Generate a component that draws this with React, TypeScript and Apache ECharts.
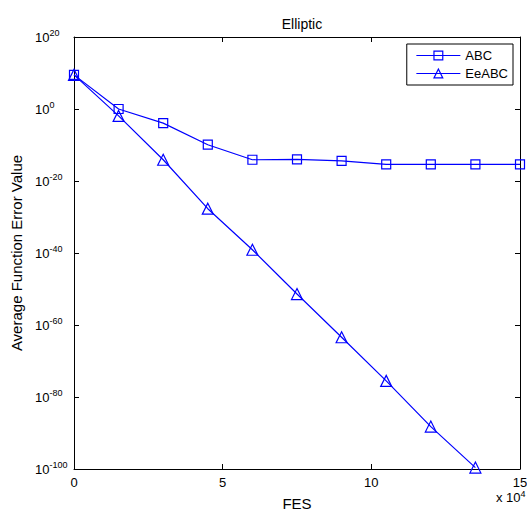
import React, { useEffect, useRef } from "react";
import * as echarts from "echarts";

const fes = [0, 1.5, 3, 4.5, 6, 7.5, 9, 10.5, 12, 13.5, 15];
const abc = [3e9, 1, 1.2e-4, 1.2e-10, 8e-15, 1e-14, 4e-15, 4e-16, 4e-16, 4e-16, 4e-16];
const eeabc = [3e9, 1.2e-2, 8e-15, 2e-28, 8e-40, 4e-52, 4e-64, 3e-76, 6e-89, 2.5e-100, null];
const xTicks = [0, 5, 10, 15];
const yExpTicks = [-100, -80, -60, -40, -20, 0, 20];
const seriesNames = ["ABC", "EeABC"];

const FONT = "Liberation Sans, Arial, sans-serif";
const BLUE = "#0000ff";

export default function App() {
  const ref = useRef<HTMLDivElement>(null);
  useEffect(() => {
    if (!ref.current) return;
    const chart = echarts.init(ref.current, null, { renderer: "svg" });
    const expFmt = (v: number) => (yExpTicks.includes(v) ? `{b|10}{s|${v}}` : "");
    const richLabel = {
      b: { fontSize: 13, fontFamily: FONT, color: "#000", lineHeight: 14 },
      s: { fontSize: 9, fontFamily: FONT, color: "#000", padding: [0, 0, 9, 0] },
    };
    // log10 transform for the logarithmic y scale
    const mk = (vals: (number | null)[]) =>
      fes.map((x, i) => [x, vals[i] == null ? null : Math.log10(vals[i] as number)]);
    const axisLine = { show: true, onZero: false, lineStyle: { color: "#000", width: 1 } };
    const axisTick = { show: true, inside: true, length: 5, lineStyle: { color: "#000" } };
    const option: any = {
      animation: false,
      backgroundColor: "#fff",
      title: {
        text: "Elliptic",
        left: 297,
        textAlign: "center",
        top: 12,
        textStyle: { fontSize: 14, fontWeight: "normal", fontFamily: FONT, color: "#000" },
      },
      legend: {
        orient: "vertical",
        right: 14,
        top: 44,
        padding: [5, 5, 5, 9],
        itemGap: 5,
        itemWidth: 44,
        itemHeight: 11,
        borderColor: "#000",
        borderWidth: 1,
        backgroundColor: "#fff",
        lineStyle: { width: 1.2, color: BLUE },
        itemStyle: { borderWidth: 1.2, borderColor: BLUE },
        textStyle: { fontSize: 13, fontFamily: FONT, color: "#000" },
        data: seriesNames,
      },
      grid: { left: 74, right: 7, top: 37, bottom: 45, outerBoundsMode: "none", containLabel: false },
      xAxis: [
        {
          type: "value",
          min: 0,
          max: 15,
          interval: 5,
          name: "FES",
          nameLocation: "middle",
          nameGap: 27,
          nameTextStyle: { fontSize: 15, fontFamily: FONT, color: "#000" },
          axisLine,
          axisTick,
          axisLabel: {
            fontSize: 13,
            fontFamily: FONT,
            color: "#000",
            margin: 7,
            formatter: (v: number) => (xTicks.includes(v) ? String(v) : ""),
          },
          splitLine: { show: false },
        },
        {
          type: "value",
          position: "top",
          min: 0,
          max: 15,
          interval: 5,
          axisLine,
          axisTick,
          axisLabel: { show: false },
          splitLine: { show: false },
        },
      ],
      yAxis: [
        {
          type: "value",
          min: -100,
          max: 20,
          interval: 20,
          name: "Average Function Error Value",
          nameLocation: "middle",
          nameGap: 47,
          nameTextStyle: { fontSize: 15, fontFamily: FONT, color: "#000" },
          axisLine,
          axisTick,
          axisLabel: {
            align: "left",
            margin: 39,
            formatter: expFmt,
            rich: richLabel,
          },
          splitLine: { show: false },
        },
        {
          type: "value",
          position: "right",
          min: -100,
          max: 20,
          interval: 20,
          axisLine,
          axisTick,
          axisLabel: { show: false },
          splitLine: { show: false },
        },
      ],
      graphic: [
        {
          type: "text",
          left: 496,
          top: 489,
          style: {
            text: "{b|x 10}{s|4}",
            rich: {
              b: { fontSize: 13, fontFamily: FONT, fill: "#000", lineHeight: 14 },
              s: { fontSize: 9, fontFamily: FONT, fill: "#000", padding: [0, 0, 8, 0] },
            },
          },
        },
      ],
      series: [
        {
          name: seriesNames[0],
          type: "line",
          data: mk(abc),
          symbol: "rect",
          symbolSize: 9,
          showAllSymbol: true,
          lineStyle: { color: BLUE, width: 1.2 },
          itemStyle: { color: "rgba(255,255,255,0)", borderColor: BLUE, borderWidth: 1.2 },
          color: BLUE,
        },
        {
          name: seriesNames[1],
          type: "line",
          data: mk(eeabc),
          symbol: "triangle",
          symbolSize: 11,
          showAllSymbol: true,
          lineStyle: { color: BLUE, width: 1.2 },
          itemStyle: { color: "rgba(255,255,255,0)", borderColor: BLUE, borderWidth: 1.2 },
          color: BLUE,
        },
      ],
    };
    chart.setOption(option);
    return () => chart.dispose();
  }, []);
  return <div ref={ref} style={{ width: 527, height: 514, position: "absolute", left: 0, top: 0 }} />;
}
